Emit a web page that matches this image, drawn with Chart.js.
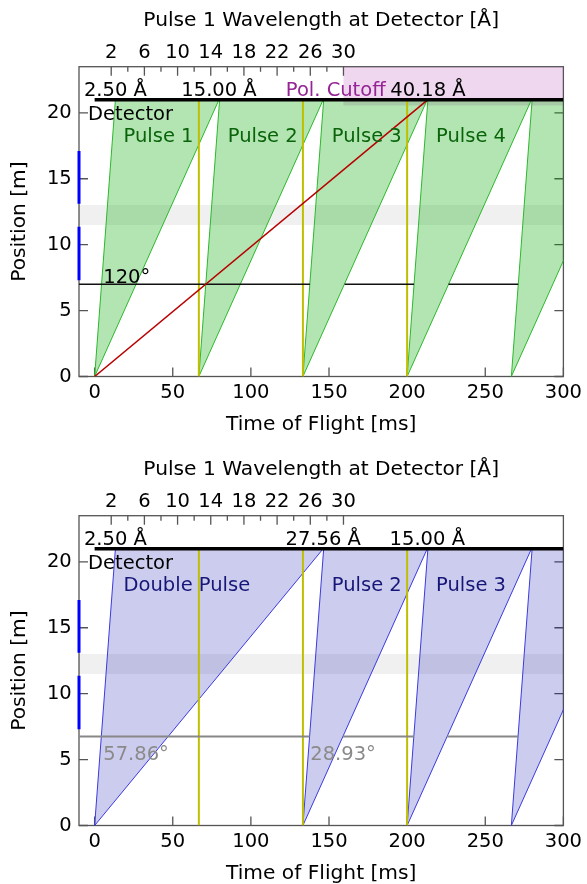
<!DOCTYPE html>
<html>
<head>
<meta charset="utf-8">
<script src="https://cdn.jsdelivr.net/npm/chart.js@4.4.1/dist/chart.umd.min.js"></script>
<style>
  html, body { margin: 0; padding: 0; background: #fff; overflow: hidden; }
  canvas { position: absolute; left: 0; }
  #topChart { top: 0; }
  #bottomChart { top: 449px; }
</style>
</head>
<body>
<canvas id="topChart" width="587" height="450"></canvas>
<canvas id="bottomChart" width="587" height="450"></canvas>
<script>
// values (time in ms, position in m, wavelength in Å)
const detectorPos = 21;
const msPerAngstrom = 5.3084; // flight time per Å over the 21 m to the detector
const timeTicks = [0, 50, 100, 150, 200, 250, 300];
const posTicks = [0, 5, 10, 15, 20];
const lambdaTicks = [2, 4, 6, 8, 10, 12, 14, 16, 18, 20, 22, 24, 26, 28, 30];
const lambdaLabels = [2, 6, 10, 14, 18, 22, 26, 30];
const frameTimes = [66.7, 133.3, 200];
const guideBand = [11.5, 13];
const blueMarks = [[7.3, 11.35], [13.1, 17.1]];

// top panel: single pulses
const pulseStarts = [0, 66.7, 133.3, 200, 266.7];
const pulseFast = [13.3, 80.0, 146.6, 213.3, 280.0];
const pulseSlow = [79.6, 146.3, 212.9, 279.6, 346.3];
const pulseNames = ['Pulse 1', 'Pulse 2', 'Pulse 3', 'Pulse 4'];
const topWaveTimes = [13.3, 79.6, 213.3];
const topWaveLabels = ['2.50 Å', '15.00 Å', '40.18 Å'];
const slowestLine = [[0, 0], [213.3, 21]];
const polCutoffLambda = 30;
const polCutoffBottom = 20.55;
const topChopperPos = 7;
const topChopperOpen = [[-10, 137.8], [160.0, 204.4], [226.5, 271.1]];

// bottom panel: double pulse
const doubleStarts = [0, 133.3, 200, 266.7];
const doubleFast = [13.3, 146.6, 213.3, 280.0];
const doubleSlow = [146.3, 212.9, 279.6, 346.3];
const doubleNames = ['Double Pulse', 'Pulse 2', 'Pulse 3'];
const bottomWaveTimes = [13.3, 146.3, 212.9];
const bottomWaveLabels = ['2.50 Å', '27.56 Å', '15.00 Å'];
const bottomChopperPos = 6.75;
const bottomChopperOpen = [[-10, 137.6], [158.9, 204.3], [225.6, 271.0]];

const FONT = "'DejaVu Sans', sans-serif";
const fontSpec = { family: FONT, size: 19.5 };
const titleFont = { family: FONT, size: 20.2 };

function segments(pairs, y) {
  const pts = [];
  pairs.forEach((p, i) => {
    if (i > 0) pts.push({ x: p[0], y: null });
    pts.push({ x: p[0], y: y }, { x: p[1], y: y });
  });
  return pts;
}

function lineSet(data, color, width, order, extra) {
  return Object.assign({
    data: data, borderColor: color, borderWidth: width, backgroundColor: 'transparent',
    fill: false, pointRadius: 0, pointHoverRadius: 0, order: order, spanGaps: false
  }, extra || {});
}

function shapeSet(data, fillColor, edgeColor, edgeWidth, order) {
  return lineSet(data, edgeColor, edgeWidth, order, { fill: 'shape', backgroundColor: fillColor });
}

const framePlugin = {
  id: 'frame',
  beforeDatasetsDraw(chart) {
    const { ctx, chartArea: a, scales } = chart;
    ctx.save();
    ctx.strokeStyle = '#555';
    ctx.lineWidth = 1.3;
    ctx.strokeRect(a.left, a.top, a.right - a.left, a.bottom - a.top);
    ctx.beginPath();
    scales.x.ticks.forEach(t => {
      const px = scales.x.getPixelForValue(t.value);
      ctx.moveTo(px, a.bottom); ctx.lineTo(px, a.bottom - 9);
    });
    scales.y.ticks.forEach(t => {
      const py = scales.y.getPixelForValue(t.value);
      ctx.moveTo(a.left, py); ctx.lineTo(a.left + 9, py);
      ctx.moveTo(a.right, py); ctx.lineTo(a.right - 9, py);
    });
    scales.x2.ticks.forEach(t => {
      const px = scales.x2.getPixelForValue(t.value);
      const len = lambdaLabels.includes(t.value) ? 9 : 5;
      ctx.moveTo(px, a.top); ctx.lineTo(px, a.top + len);
    });
    ctx.stroke();
    ctx.restore();
  },
  afterDatasetsDraw(chart) {
    const { ctx, scales } = chart;
    const notes = chart.options.plugins.frame.notes || [];
    ctx.save();
    ctx.font = '19.5px ' + FONT;
    ctx.textBaseline = 'alphabetic';
    notes.forEach(n => {
      ctx.fillStyle = n.color || '#000';
      ctx.textAlign = n.align || 'left';
      ctx.fillText(n.text, scales.x.getPixelForValue(n.x), scales.y.getPixelForValue(n.y));
    });
    ctx.restore();
  }
};

function makePanel(id, opts) {
  const datasets = [];
  // light guide band
  datasets.push(shapeSet([
    { x: -10, y: guideBand[0] }, { x: 300, y: guideBand[0] },
    { x: 300, y: guideBand[1] }, { x: -10, y: guideBand[1] }, { x: -10, y: guideBand[0] }
  ], 'rgba(0,0,0,0.06)', 'transparent', 0, 20));
  // polarizer cutoff region
  if (opts.polCutoff) {
    const t0 = polCutoffLambda * msPerAngstrom;
    datasets.push(shapeSet([
      { x: t0, y: polCutoffBottom }, { x: 300, y: polCutoffBottom },
      { x: 300, y: 23.5 }, { x: t0, y: 23.5 }, { x: t0, y: polCutoffBottom }
    ], 'rgba(160,20,160,0.17)', 'transparent', 0, 19));
  }
  // pulses
  opts.starts.forEach((s, i) => {
    datasets.push(shapeSet([
      { x: s, y: 0 }, { x: opts.fast[i], y: detectorPos },
      { x: opts.slow[i], y: detectorPos }, { x: s, y: 0 }
    ], opts.fill, opts.edge, 1, 15));
  });
  // frame-overlap lines
  const yl = [];
  frameTimes.forEach((t, i) => {
    if (i > 0) yl.push({ x: t, y: null });
    yl.push({ x: t, y: 0 }, { x: t, y: detectorPos });
  });
  datasets.push(lineSet(yl, '#bfbf00', 2, 8));
  // chopper
  datasets.push(lineSet(segments(opts.chopperOpen, opts.chopperPos), opts.chopperColor, opts.chopperWidth, 7));
  if (opts.slowest) {
    datasets.push(lineSet(opts.slowest.map(p => ({ x: p[0], y: p[1] })), '#b80000', 1.5, 6));
  }
  // detector
  datasets.push(lineSet([{ x: 0, y: detectorPos }, { x: 300, y: detectorPos }], '#000', 3.5, 3));
  // blue marks on the left spine
  const bl = [];
  blueMarks.forEach((m, i) => {
    if (i > 0) bl.push({ x: -10, y: null });
    bl.push({ x: -10, y: m[0] }, { x: -10, y: m[1] });
  });
  datasets.push(lineSet(bl, '#0000ff', 3, 1, { clip: false, borderCapStyle: 'butt' }));

  const notes = [{ text: 'Detector', x: -4.2, y: 19.45 }];
  opts.waveTimes.forEach((t, i) => notes.push({ text: opts.waveLabels[i], x: t, y: 21.25, align: 'center' }));
  if (opts.polCutoff) notes.push({ text: 'Pol. Cutoff', x: 154.3, y: 21.25, align: 'center', color: '#952495' });
  opts.names.forEach((n, i) => notes.push({ text: n, x: opts.starts[i] + 18.5, y: 17.8, color: opts.nameColor }));
  opts.angles.forEach(a => notes.push({ text: a.text, x: a.x, y: a.y, color: opts.angleColor }));

  return new Chart(document.getElementById(id), {
    type: 'line',
    data: { datasets: datasets },
    plugins: [framePlugin],
    options: {
      responsive: false,
      devicePixelRatio: 1,
      animation: false,
      events: [],
      layout: { autoPadding: false, padding: { left: 0, right: 18.7, top: 0, bottom: 0 } },
      plugins: { legend: { display: false }, tooltip: { enabled: false }, frame: { notes: notes } },
      scales: {
        x: {
          type: 'linear', position: 'bottom', min: -10, max: 300,
          afterBuildTicks: s => { s.ticks = timeTicks.map(v => ({ value: v })); },
          afterFit: s => { s.height = 73.5; },
          grid: { display: false, drawTicks: false }, border: { display: false },
          ticks: { padding: 5, color: '#000', font: fontSpec, maxRotation: 0, autoSkip: false },
          title: { display: true, text: 'Time of Flight [ms]', color: '#000', font: titleFont, padding: { top: 0, bottom: 13.1 } }
        },
        x2: {
          type: 'linear', position: 'top', min: -10 / msPerAngstrom, max: 300 / msPerAngstrom,
          afterBuildTicks: s => { s.ticks = lambdaTicks.map(v => ({ value: v })); },
          afterFit: s => { s.height = 66.7; },
          grid: { display: false, drawTicks: false }, border: { display: false },
          ticks: { padding: 2, color: '#000', font: fontSpec, maxRotation: 0, autoSkip: false,
            callback: v => lambdaLabels.includes(v) ? String(v) : '' },
          title: { display: true, text: 'Pulse 1 Wavelength at Detector [Å]', color: '#000', font: titleFont, padding: { top: 8.4, bottom: 0 } }
        },
        y: {
          type: 'linear', position: 'left', min: 0, max: 23.5,
          afterBuildTicks: s => { s.ticks = posTicks.map(v => ({ value: v })); },
          afterFit: s => { s.width = 79; },
          grid: { display: false, drawTicks: false }, border: { display: false },
          ticks: { padding: 7.3, color: '#000', font: fontSpec },
          title: { display: true, text: 'Position [m]', color: '#000', font: titleFont, padding: { top: 7.6, bottom: 0 } }
        }
      }
    }
  });
}

makePanel('topChart', {
  starts: pulseStarts, fast: pulseFast, slow: pulseSlow, names: pulseNames,
  fill: 'rgba(0,170,0,0.3)', edge: '#2cb82c', nameColor: '#0a640a',
  waveTimes: topWaveTimes, waveLabels: topWaveLabels, polCutoff: true, slowest: slowestLine,
  chopperPos: topChopperPos, chopperOpen: topChopperOpen, chopperColor: '#111', chopperWidth: 1.5,
  angles: [{ text: '120°', x: 5.5, y: 7.1 }], angleColor: '#000'
});

makePanel('bottomChart', {
  starts: doubleStarts, fast: doubleFast, slow: doubleSlow, names: doubleNames,
  fill: 'rgba(0,0,170,0.2)', edge: '#3a3ae0', nameColor: '#161678',
  waveTimes: bottomWaveTimes, waveLabels: bottomWaveLabels, polCutoff: false, slowest: null,
  chopperPos: bottomChopperPos, chopperOpen: bottomChopperOpen, chopperColor: '#888', chopperWidth: 2,
  angles: [{ text: '57.86°', x: 5.5, y: 5.0 }, { text: '28.93°', x: 138, y: 5.0 }], angleColor: '#8a8a8a'
});
</script>
</body>
</html>
